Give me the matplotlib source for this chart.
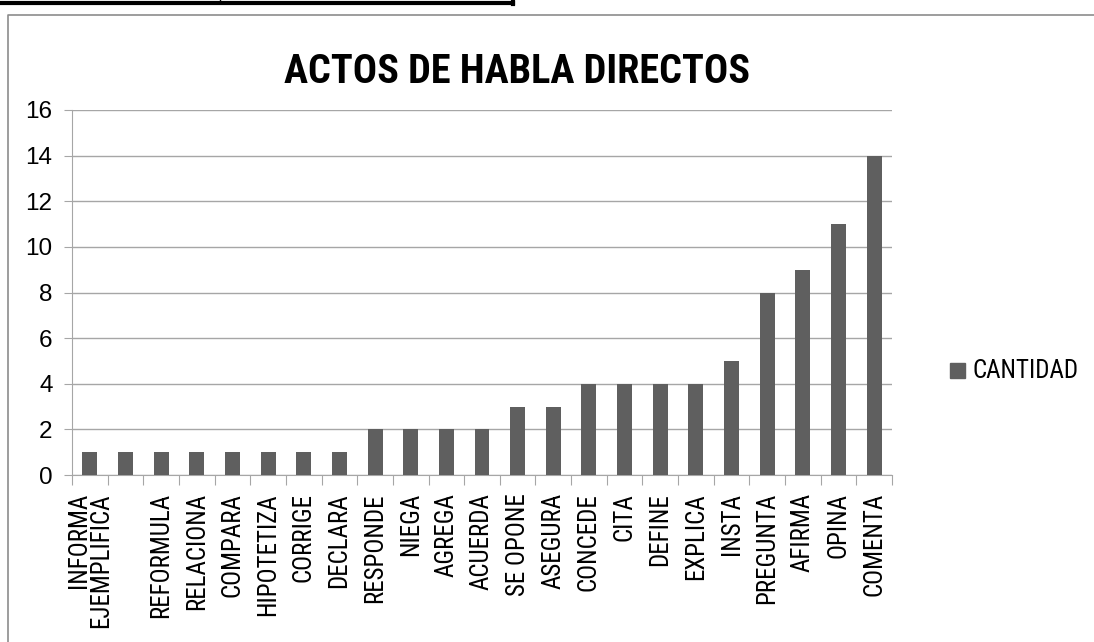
import matplotlib.pyplot as plt
from matplotlib.lines import Line2D
from matplotlib.patches import Rectangle

# actos de habla directos, cantidad por categoria
categorias = ["INFORMA", "EJEMPLIFICA", "REFORMULA", "RELACIONA", "COMPARA",
              "HIPOTETIZA", "CORRIGE", "DECLARA", "RESPONDE", "NIEGA", "AGREGA",
              "ACUERDA", "SE OPONE", "ASEGURA", "CONCEDE", "CITA", "DEFINE",
              "EXPLICA", "INSTA", "PREGUNTA", "AFIRMA", "OPINA", "COMENTA"]
cantidad = [1, 1, 1, 1, 1, 1, 1, 1, 2, 2, 2, 2, 3, 3, 4, 4, 4, 4, 5, 8, 9, 11, 14]
# in the original the first two labels got stacked in the first slot
etiquetas = ["INFORMA\nEJEMPLIFICA", ""] + categorias[2:]
yticks = [0, 2, 4, 6, 8, 10, 12, 14, 16]

narrow = ["Roboto Condensed", "Archivo Narrow", "DejaVu Sans"]
bar_color = "#5f5f5f"
grid_color = "#a6a6a6"

W, H = 1094, 642
fig = plt.figure(figsize=(W / 100, H / 100), dpi=100)

# plot area in pixel coords
left, right, top, bottom = 72, 892, 110, 475
ax = fig.add_axes([left / W, 1 - bottom / H, (right - left) / W, (bottom - top) / H])

x = list(range(len(categorias)))
ax.bar(x, cantidad, width=0.42, color=bar_color, label="CANTIDAD", zorder=3)

ax.set_xlim(-0.5, len(categorias) - 0.5)
ax.set_ylim(0, 16)
ax.set_yticks(yticks)
ax.set_yticklabels([str(v) for v in yticks], fontsize=17.5, family="Liberation Sans")
ax.yaxis.grid(True, color=grid_color, linewidth=1, zorder=0)
ax.tick_params(axis="y", length=6, color=grid_color, pad=8)

# category ticks on the boundaries, labels at the centres
ax.set_xticks([i - 0.5 for i in range(len(categorias) + 1)])
ax.set_xticklabels([])
ax.set_xticks(x, minor=True)
ax.set_xticklabels(etiquetas, minor=True, rotation=90, fontsize=18, family=narrow,
                   va="top", ha="center", linespacing=0.9, multialignment="right")
ax.tick_params(axis="x", which="major", length=7, color=grid_color)
ax.tick_params(axis="x", which="minor", length=0, pad=13)

for s in ["top", "right"]:
    ax.spines[s].set_visible(False)
for s in ["left", "bottom"]:
    ax.spines[s].set_color(grid_color)

fig.text(517 / W, 1 - 72 / H, "ACTOS DE HABLA DIRECTOS", fontsize=29, weight="bold",
         family=narrow, ha="center", va="center")

# legend
fig.patches.append(Rectangle((950 / W, 1 - 378 / H), 15 / W, 15 / H,
                             transform=fig.transFigure, color=bar_color))
fig.text(972 / W, 1 - 371 / H, "CANTIDAD", fontsize=18, family=narrow,
         ha="left", va="center")

# chart frame (runs off the right/bottom edge) and table border fragment on top
fig.lines.append(Line2D([8 / W, 8 / W, 1.01], [-0.01, 1 - 15 / H, 1 - 15 / H],
                        transform=fig.transFigure, color="#8c8c8c", linewidth=1.2))
fig.lines.append(Line2D([0, 513 / W], [1 - 3 / H, 1 - 3 / H],
                        transform=fig.transFigure, color="black", linewidth=3))
fig.lines.append(Line2D([513 / W, 513 / W], [1 - 4 / H, 1.0],
                        transform=fig.transFigure, color="black", linewidth=3))
fig.lines.append(Line2D([220 / W, 220 / W], [1 - 3 / H, 1.0],
                        transform=fig.transFigure, color="black", linewidth=1))

fig.savefig("out.png", dpi=100)
